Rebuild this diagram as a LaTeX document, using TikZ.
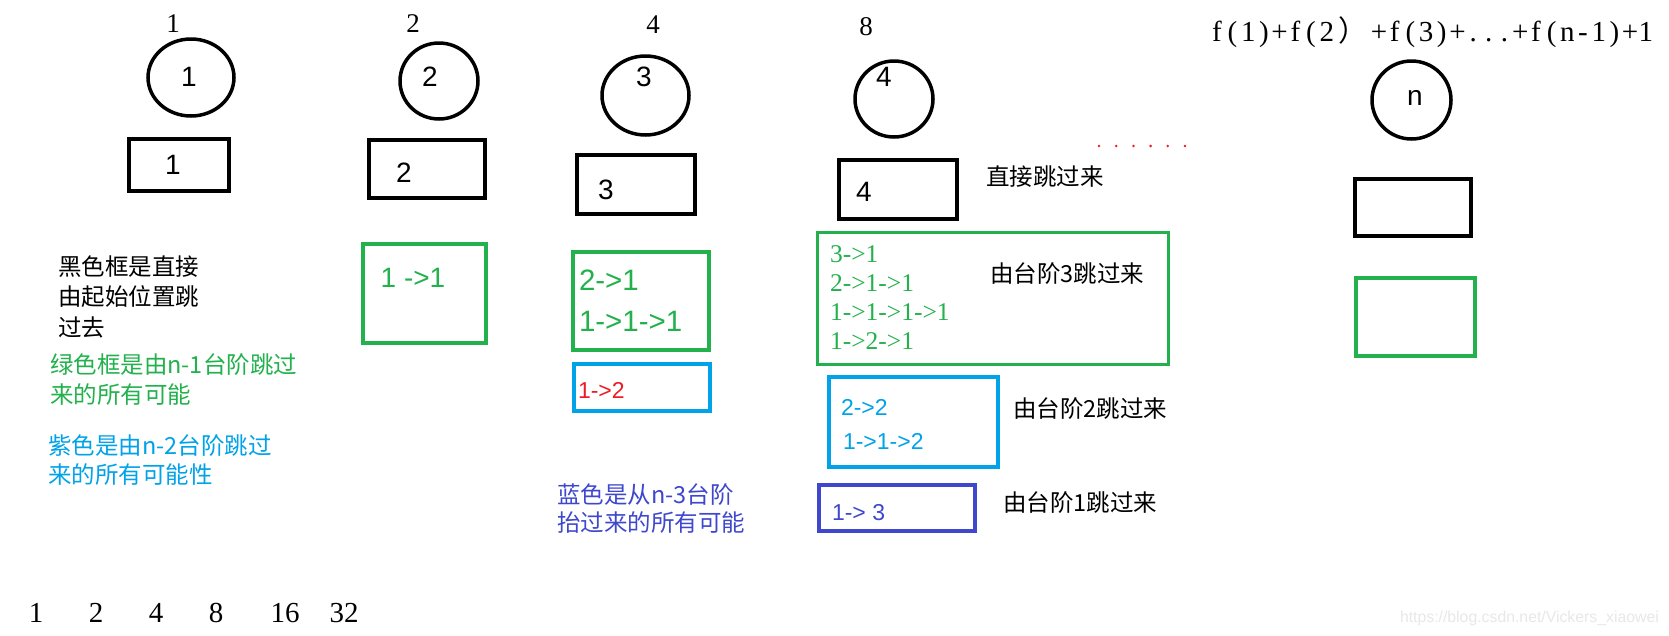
\documentclass[tikz,border=0pt]{standalone}
\usepackage{fontspec}
\setmainfont{Liberation Serif}
\newfontfamily\cjk{Noto Sans CJK SC}
\newfontfamily\arialf{Liberation Sans}
\usetikzlibrary{shapes.geometric}
\definecolor{pgreen}{HTML}{22B14C}
\definecolor{pcyan}{HTML}{00A2E8}
\definecolor{pindigo}{HTML}{3F48CC}
\definecolor{pred}{HTML}{ED1C24}
\newcommand\hw[1]{\makebox[15.7pt]{#1}}
\tikzset{
  every node/.style={inner sep=0pt, outer sep=0pt},
  circ/.style={draw=black, line width=3.5pt, ellipse},
  blkbox/.style={draw=black, line width=4pt, rectangle},
  grnbox/.style={draw=pgreen, line width=4pt, rectangle},
  cyanbox/.style={draw=pcyan, line width=4.5pt, rectangle},
  indbox/.style={draw=pindigo, line width=4.5pt, rectangle},
  toplabel/.style={font=\fontsize{27}{30}\selectfont},
  botnum/.style={font=\fontsize{29}{32}\selectfont},
  sansbig/.style={font=\arialf\fontsize{28}{30}\selectfont},
  sansmid/.style={font=\arialf\fontsize{23}{26}\selectfont, anchor=west},
  serifmid/.style={font=\fontsize{25.5}{28}\selectfont, anchor=west, text=pgreen},
  cjktext/.style={font=\cjk\fontsize{23.5}{28}\selectfont, anchor=west},
}
\begin{document}
\begin{tikzpicture}[x=1pt, y=-1pt]
\fill[white] (0,0) rectangle (1669,635);
\useasboundingbox (0,0) rectangle (1669,635);

% top labels
\node[toplabel] (t1) at (173,24) {1};
\node[toplabel] (t2) at (413,24) {2};
\node[toplabel] (t4) at (653,25) {4};
\node[toplabel] (t8) at (866,27) {8};

% circles
\node[circ, minimum width=86pt, minimum height=77pt] (c1) at (191,77.5) {};
\node[circ, minimum width=78pt, minimum height=76pt] (c2) at (439,81) {};
\node[circ, minimum width=87pt, minimum height=79pt] (c3) at (645.5,95.5) {};
\node[circ, minimum width=78pt, minimum height=76pt] (c4) at (894,99) {};
\node[circ, minimum width=79pt, minimum height=78pt] (cn) at (1411.5,100) {};
\node[sansbig] (c1t) at (189,77) {1};
\node[sansbig] (c2t) at (430,77) {2};
\node[sansbig] (c3t) at (644,77) {3};
\node[sansbig] (c4t) at (884,77) {4};
\node[sansbig] (cnt) at (1415,98) {n};

% black boxes
\node[blkbox, minimum width=100pt, minimum height=52pt] (b1) at (179,165) {};
\node[blkbox, minimum width=116pt, minimum height=58pt] (b2) at (427,169) {};
\node[blkbox, minimum width=118pt, minimum height=59pt] (b3) at (636,184.5) {};
\node[blkbox, minimum width=118pt, minimum height=59pt] (b4) at (898,189.5) {};
\node[blkbox, minimum width=116pt, minimum height=57pt] (bn) at (1413,207.5) {};
\node[sansbig] (b1t) at (173,165) {1};
\node[sansbig] (b2t) at (404,173) {2};
\node[sansbig] (b3t) at (606,190) {3};
\node[sansbig] (b4t) at (864,192) {4};

% green boxes
\node[grnbox, minimum width=123pt, minimum height=99pt] (g2) at (424.5,293.5) {};
\node[grnbox, minimum width=136pt, minimum height=98pt] (g3) at (641,301) {};
\node[grnbox, line width=3pt, minimum width=351pt, minimum height=132pt] (g4) at (993,298.5) {};
\node[grnbox, minimum width=119pt, minimum height=78pt] (gn) at (1415.5,317) {};
\node[sansbig, text=pgreen] (g2t) at (413,278) {1 ->1};
\node[sansbig, font=\arialf\fontsize{29.5}{31}\selectfont, text=pgreen, anchor=west] (g3a) at (579,280) {2->1};
\node[sansbig, font=\arialf\fontsize{29.5}{31}\selectfont, text=pgreen, anchor=west] (g3b) at (579,321) {1->1->1};
\node[serifmid] (g4a) at (830,254) {3->1};
\node[serifmid] (g4b) at (830,283) {2->1->1};
\node[serifmid] (g4c) at (830,312) {1->1->1->1};
\node[serifmid] (g4d) at (830,341) {1->2->1};

% cyan boxes
\node[cyanbox, line width=4pt, minimum width=136pt, minimum height=47pt] (cy3) at (642,387.5) {};
\node[cyanbox, minimum width=169pt, minimum height=90pt] (cy4) at (913.5,422) {};
\node[sansmid, text=pred] (cy3t) at (578,390) {1->2};
\node[sansmid, text=pcyan] (cy4a) at (841,407) {2->2};
\node[sansmid, text=pcyan] (cy4b) at (843,441) {1->1->2};

% indigo box
\node[indbox, minimum width=156pt, minimum height=46pt] (bl) at (897,508) {};
\node[sansmid, text=pindigo] (blt) at (832,513) {1-> 3};

% right-hand labels
\node[cjktext] (l1) at (986,177) {直接跳过来};
\node[cjktext] (l2) at (990,274) {由台阶3跳过来};
\node[cjktext] (l3) at (1013,409) {由台阶2跳过来};
\node[cjktext] (l4) at (1003,503) {由台阶1跳过来};

% left explanatory texts
\node[cjktext] (k1) at (58,267) {黑色框是直接};
\node[cjktext] (k2) at (58,297) {由起始位置跳};
\node[cjktext] (k3) at (58,327) {过去};
\node[cjktext, text=pgreen] (gr1) at (50,365) {绿色框是由n-1台阶跳过};
\node[cjktext, text=pgreen] (gr2) at (50,395) {来的所有可能};
\node[cjktext, text=pcyan] (cya1) at (48,446) {紫色是由n-2台阶跳过};
\node[cjktext, text=pcyan] (cya2) at (48,475) {来的所有可能性};
\node[cjktext, text=pindigo] (in1) at (557,495) {蓝色是从n-3台阶};
\node[cjktext, text=pindigo] (in2) at (557,523) {抬过来的所有可能};

% red dots
\foreach \i in {0,...,5} {
  \fill[pred] (1099+17.2*\i,146) circle (1.4pt);
}

% formula
\node[font=\fontsize{29}{31}\selectfont, anchor=west] (form) at (1209,32)
  {\hw{f}\hw{(}\hw{1}\hw{)}\hw{+}\hw{f}\hw{(}\hw{2}\makebox[30.5pt][l]{\hspace{4pt}\cjk ）}\makebox[6pt]{}\hw{+}\hw{f}\hw{(}\hw{3}\hw{)}\hw{+}\hw{.}\hw{.}\hw{.}\hw{+}\hw{f}\hw{(}\hw{n}\hw{-}\hw{1}\hw{)}\hw{+}\hw{1}};

% bottom numbers
\node[botnum] (n1) at (36,613) {1};
\node[botnum] (n2) at (96,613) {2};
\node[botnum] (n4) at (156,613) {4};
\node[botnum] (n8) at (216,613) {8};
\node[botnum] (n16) at (285,613) {16};
\node[botnum] (n32) at (344,613) {32};

% watermark
\node[font=\arialf\fontsize{15.8}{18}\selectfont, text=gray!18, anchor=west] (wm) at (1400,618) {https://blog.csdn.net/Vickers\_xiaowei};
\end{tikzpicture}
\end{document}
